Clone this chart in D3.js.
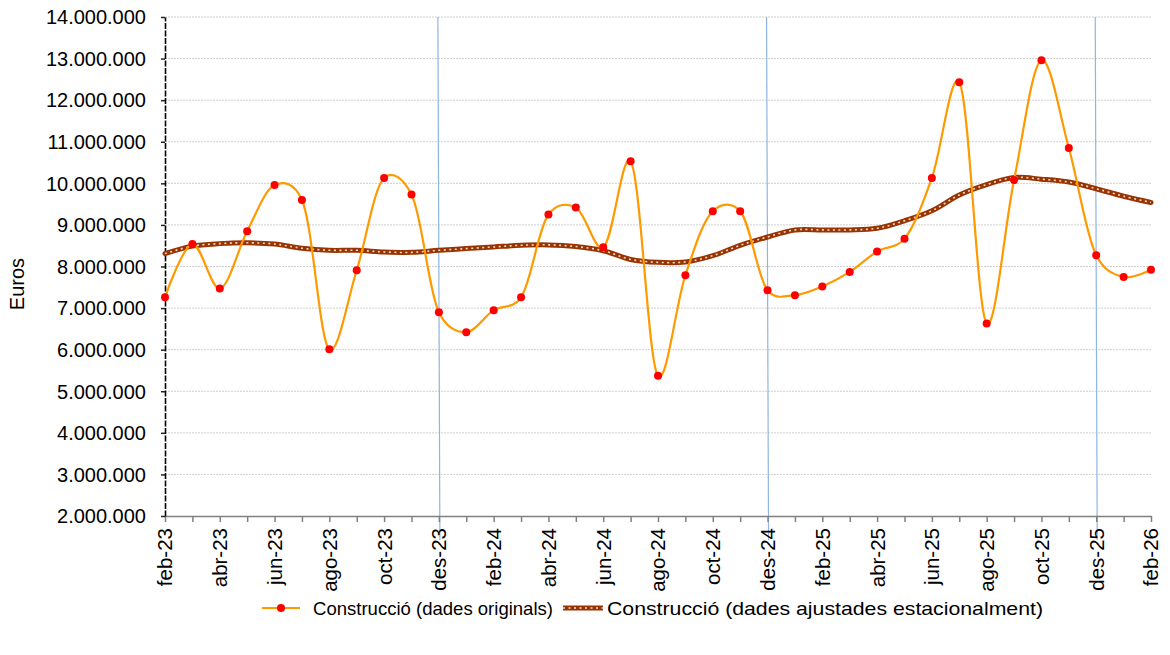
<!DOCTYPE html>
<html>
<head>
<meta charset="utf-8">
<script src="https://cdn.jsdelivr.net/npm/d3@7/dist/d3.min.js"></script>
<style>
html,body{margin:0;padding:0;background:#fff;}
svg{display:block;}
text{font-family:"Liberation Sans",Arial,sans-serif;fill:#000;}
</style>
</head>
<body>
<svg id="chart" width="1170" height="655"></svg>
<script>
const months = ["feb-23","mar-23","abr-23","mai-23","jun-23","jul-23","ago-23","set-23","oct-23","nov-23","des-23","gen-24",
"feb-24","mar-24","abr-24","mai-24","jun-24","jul-24","ago-24","set-24","oct-24","nov-24","des-24","gen-25",
"feb-25","mar-25","abr-25","mai-25","jun-25","jul-25","ago-25","set-25","oct-25","nov-25","des-25","gen-26","feb-26"];
const original = [7260000,8540000,7470000,8850000,9960000,9600000,6010000,7910000,10130000,9730000,6900000,6420000,
6950000,7260000,9250000,9420000,8460000,10530000,5370000,7790000,9330000,9330000,7430000,7310000,
7520000,7870000,8360000,8670000,10130000,12430000,6630000,10080000,12960000,10850000,8270000,7750000,7920000];
const adjusted = [8310000,8490000,8550000,8570000,8540000,8440000,8390000,8390000,8350000,8340000,8390000,8430000,
8470000,8510000,8520000,8480000,8380000,8170000,8100000,8110000,8260000,8510000,8710000,8880000,
8880000,8880000,8920000,9100000,9340000,9720000,9970000,10140000,10100000,10030000,9870000,9690000,9540000];
const yTicks = [2000000,3000000,4000000,5000000,6000000,7000000,8000000,9000000,10000000,11000000,12000000,13000000,14000000];
const tickLabelEvery = 2;
const decemberMarks = ["des-23","des-24","des-25"];
const seriesNames = ["Construcció (dades originals)","Construcció (dades ajustades estacionalment)"];
const yTitle = "Euros";

const svg = d3.select("#chart");
const L = 165, R = 1151, T = 17, B = 516;
const x = d3.scalePoint().domain(months).range([L, R]);
const y = d3.scaleLinear().domain([2000000, 14000000]).range([B, T]);
const loc = d3.formatLocale({decimal:",", thousands:".", grouping:[3], currency:["","€"]});
const fmt = loc.format(",.0f");

// gridlines
svg.append("g").selectAll("line").data(yTicks.slice(1)).join("line")
  .attr("x1", L).attr("x2", R).attr("y1", d => y(d)).attr("y2", d => y(d))
  .attr("stroke", "#cfcfcf").attr("stroke-width", 1).attr("stroke-dasharray", "2,1");

// december vertical lines
svg.append("g").selectAll("line").data(decemberMarks).join("line")
  .attr("x1", d => x(d) - 1).attr("x2", d => x(d) + 1)
  .attr("y1", T).attr("y2", B + 24)
  .attr("stroke", "#8fb5e2").attr("stroke-width", 1.2);

// x axis
const xAxis = svg.append("g").attr("transform", `translate(0,${B})`)
  .call(d3.axisBottom(x).tickSize(6).tickSizeOuter(0).tickFormat(""));
xAxis.select(".domain").attr("stroke", "#808080").attr("stroke-width", 1.5);
xAxis.selectAll(".tick line").attr("stroke", "#808080").attr("stroke-width", 1.5);

svg.append("g").selectAll("text").data(months.filter((m, i) => i % tickLabelEvery === 0)).join("text")
  .attr("transform", d => `translate(${x(d)},${B + 12}) rotate(-90)`)
  .attr("text-anchor", "end").attr("dy", "0.36em")
  .style("font-size", "20.5px").text(d => d);

// y axis
const yAxis = svg.append("g").attr("transform", `translate(${L},0)`)
  .call(d3.axisLeft(y).tickValues(yTicks).tickSize(4).tickSizeOuter(0).tickFormat(fmt));
yAxis.select(".domain").attr("stroke", "#000").attr("stroke-width", 1.6).attr("stroke-dasharray", "6,1.5");
yAxis.selectAll(".tick line").attr("stroke", "#222").attr("stroke-width", 1.5);
yAxis.selectAll(".tick text").attr("x", -19).attr("dy", "0.34em")
  .style("font-size", "20px").style("font-family", "\"Liberation Sans\",Arial,sans-serif");

svg.append("text").attr("transform", `translate(24,284) rotate(-90)`)
  .attr("text-anchor", "middle").style("font-size", "20px").text(yTitle);

// adjusted series
const lineGen = d3.line().x((d, i) => x(months[i])).y(d => y(d)).curve(d3.curveCatmullRom.alpha(0.2));
svg.append("path").datum(adjusted).attr("d", lineGen)
  .attr("fill", "none").attr("stroke", "#993300").attr("stroke-width", 5).attr("stroke-linecap", "round");
svg.append("path").datum(adjusted).attr("d", lineGen)
  .attr("fill", "none").attr("stroke", "#ecdcd0").attr("stroke-width", 1.6).attr("stroke-dasharray", "2,3.5");

// original series
svg.append("path").datum(original).attr("d", lineGen)
  .attr("fill", "none").attr("stroke", "#ff9900").attr("stroke-width", 2.2);
svg.append("g").selectAll("circle").data(original).join("circle")
  .attr("cx", (d, i) => x(months[i])).attr("cy", d => y(d)).attr("r", 4)
  .attr("fill", "#ff0000");

// legend
const ly = 608;
const lg = svg.append("g");
lg.append("line").attr("x1", 262).attr("x2", 300).attr("y1", ly).attr("y2", ly)
  .attr("stroke", "#ff9900").attr("stroke-width", 2.2);
lg.append("circle").attr("cx", 281).attr("cy", ly).attr("r", 4).attr("fill", "#ff0000");
lg.append("text").attr("x", 313).attr("y", ly).attr("dy", "0.36em").style("font-size", "18.5px")
  .attr("textLength", 240).attr("lengthAdjust", "spacingAndGlyphs").text(seriesNames[0]);
lg.append("line").attr("x1", 563).attr("x2", 603).attr("y1", ly).attr("y2", ly)
  .attr("stroke", "#993300").attr("stroke-width", 5);
lg.append("line").attr("x1", 563).attr("x2", 603).attr("y1", ly).attr("y2", ly)
  .attr("stroke", "#ecdcd0").attr("stroke-width", 1.6).attr("stroke-dasharray", "2,3.5");
lg.append("text").attr("x", 607).attr("y", ly).attr("dy", "0.36em").style("font-size", "18.5px")
  .attr("textLength", 436).attr("lengthAdjust", "spacingAndGlyphs").text(seriesNames[1]);
</script>
</body>
</html>
